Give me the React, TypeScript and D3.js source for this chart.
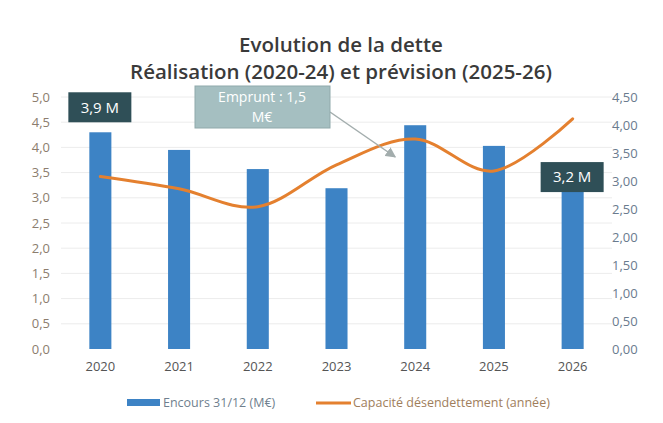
import * as d3 from 'd3'

// ── data ─────────────────────────────────────────────────────────────────────
const years    = ['2020', '2021', '2022', '2023', '2024', '2025', '2026']
const encours  = [4.3, 3.95, 3.57, 3.19, 4.44, 4.03, 3.55]   // M€ (left axis)
const capacite = [3.08, 2.86, 2.54, 3.29, 3.75, 3.18, 4.11]  // années (right axis)
const leftTicks  = [0, 0.5, 1, 1.5, 2, 2.5, 3, 3.5, 4, 4.5, 5]
const rightTicks = [0, 0.5, 1, 1.5, 2, 2.5, 3, 3.5, 4, 4.5]

// ── constants ────────────────────────────────────────────────────────────────
const W = 663, H = 423
const M = { top: 97, right: 51, bottom: 74, left: 61 }
const FONT    = '"Open Sans", "Noto Sans", sans-serif'
const C_BAR   = '#3d83c5'
const C_LINE  = '#e4802f'
const C_DARK  = '#2f4f57'
const C_LIGHT = '#a5bfc1'
const C_LTXT  = '#8c7d6e'
const C_RTXT  = '#6a7b8e'
const C_GRID  = '#ececec'

const fmt1 = (v: number) => v.toFixed(1).replace('.', ',')
const fmt2 = (v: number) => v.toFixed(2).replace('.', ',')

export default function App() {
  const iW = W - M.left - M.right
  const iH = H - M.top - M.bottom

  const x  = d3.scaleBand().domain(years).range([M.left, M.left + iW]).paddingInner(0.72).paddingOuter(0.36)
  const cx = (yr: string) => (x(yr) ?? 0) + x.bandwidth() / 2
  const yL = d3.scaleLinear().domain([0, 5]).range([M.top + iH, M.top])
  const yR = d3.scaleLinear().domain([0, 4.5]).range([M.top + iH, M.top])

  const line = d3.line<number>()
    .x((_, i) => cx(years[i]))
    .y(d => yR(d))
    .curve(d3.curveCatmullRom.alpha(0))

  // annotation anchors (derived from the scales)
  const b1x = cx(years[0]), b1y = yL(encours[0]) - 25
  const b2x = cx(years[6]), b2y = yL(encours[6]) + 7
  const ax = cx(years[4]) - 20, ay = yR(capacite[4]) + 18

  return (
    <svg width={W} height={H} style={{ position: 'absolute', left: 0, top: 0, background: '#fff' }} fontFamily={FONT}>
      <defs>
        <marker id="arr" viewBox="0 0 10 10" refX="9" refY="5" markerWidth="7" markerHeight="7" orient="auto">
          <path d="M0,0 L10,5 L0,10 z" fill="#a3adad" />
        </marker>
      </defs>

      {/* title */}
      <text x={341} y={52} textAnchor="middle" fontSize={20.5} fontWeight={600} fill="#3a3a3a">Evolution de la dette</text>
      <text x={341} y={79} textAnchor="middle" fontSize={20.5} fontWeight={600} fill="#3a3a3a">Réalisation (2020-24) et prévision (2025-26)</text>

      {/* grid */}
      {leftTicks.slice(1).map(t => (
        <line key={t} x1={M.left} x2={M.left + iW} y1={yL(t)} y2={yL(t)} stroke={C_GRID} strokeWidth={1} />
      ))}

      {/* left axis */}
      {leftTicks.map(t => (
        <text key={t} x={50} y={yL(t)} dy="0.35em" textAnchor="end" fontSize={13} fill={C_LTXT}>{fmt1(t)}</text>
      ))}
      {/* right axis */}
      {rightTicks.map(t => (
        <text key={t} x={612} y={yR(t)} dy="0.35em" textAnchor="start" fontSize={13} fill={C_RTXT}>{fmt2(t)}</text>
      ))}

      {/* bars */}
      {encours.map((v, i) => (
        <rect key={years[i]} x={x(years[i])} y={yL(v)} width={x.bandwidth()} height={yL(0) - yL(v)} fill={C_BAR} />
      ))}

      {/* x axis labels */}
      {years.map(yr => (
        <text key={yr} x={cx(yr)} y={yL(0) + 22} textAnchor="middle" fontSize={13} fill="#555">{yr}</text>
      ))}

      {/* line */}
      <path d={line(capacite) ?? ''} fill="none" stroke={C_LINE} strokeWidth={3} strokeLinejoin="round" strokeLinecap="round" />

      {/* annotations */}
      <rect x={b1x - 32} y={b1y - 15} width={63} height={30} fill={C_DARK} />
      <text x={b1x - 0.5} y={b1y} dy="0.35em" textAnchor="middle" fontSize={15} fill="#fff">3,9 M</text>

      <rect x={b2x - 32} y={b2y - 15} width={63} height={30} fill={C_DARK} />
      <text x={b2x - 0.5} y={b2y} dy="0.35em" textAnchor="middle" fontSize={15} fill="#fff">3,2 M</text>

      <line x1={330} y1={112} x2={ax} y2={ay} stroke="#a3adad" strokeWidth={1.5} markerEnd="url(#arr)" />
      <rect x={195} y={86} width={135} height={42} fill={C_LIGHT} stroke="#90a9ab" strokeWidth={1} />
      <text x={262} y={97} dy="0.35em" textAnchor="middle" fontSize={14} fill="#fff">Emprunt : 1,5</text>
      <text x={262} y={117} dy="0.35em" textAnchor="middle" fontSize={14} fill="#fff">M€</text>

      {/* legend */}
      <rect x={127} y={399} width={33} height={7} fill={C_BAR} />
      <text x={163} y={403} dy="0.35em" fontSize={12.5} fill="#6f7f8e">Encours 31/12 (M€)</text>
      <line x1={316} x2={351} y1={403} y2={403} stroke={C_LINE} strokeWidth={3} />
      <text x={353} y={403} dy="0.35em" fontSize={12.5} fill="#a07e5c">Capacité désendettement (année)</text>
    </svg>
  )
}
